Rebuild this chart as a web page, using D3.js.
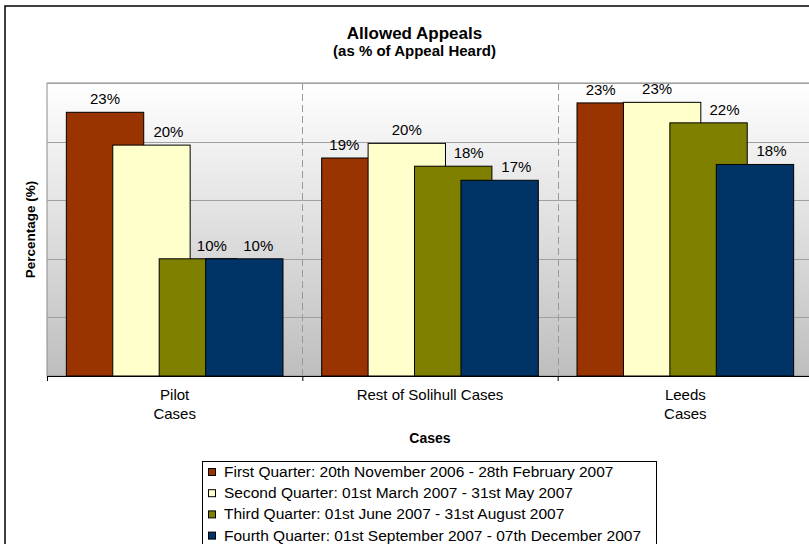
<!DOCTYPE html>
<html>
<head>
<meta charset="utf-8">
<script src="https://cdn.jsdelivr.net/npm/d3@7"></script>
<style>
  body { margin: 0; background: #fff; }
  svg { display: block; font-family: Arial, "Liberation Sans", sans-serif; }
  .lbl { font-size: 15px; fill: #000; }
</style>
</head>
<body>
<svg width="809" height="544"></svg>
<script>
// data (percent)
var categories = [["Pilot", "Cases"], ["Rest of Solihull Cases"], ["Leeds", "Cases"]];
var seriesNames = [
  "First Quarter: 20th November 2006 - 28th February 2007",
  "Second Quarter: 01st March 2007 - 31st May 2007",
  "Third Quarter: 01st June 2007 - 31st August 2007",
  "Fourth Quarter: 01st September 2007 - 07th December 2007"
];
var firstQuarter  = [22.5, 18.6, 23.3];
var secondQuarter = [19.7, 19.85, 23.35];
var thirdQuarter  = [10.0, 17.9, 21.6];
var fourthQuarter = [10.0, 16.7, 18.05];
var yTicks = [0, 5, 10, 15, 20, 25];

var colors = ["#993300", "#FFFFCC", "#808000", "#003366"];
// labels were dragged sideways in the original, so nudge them (px)
var labelNudge = [[0, -16, -15], [17, 0, -5], [14, 15.5, 16], [14, 16.7, 16.5]];

var series = [firstQuarter, secondQuarter, thirdQuarter, fourthQuarter];

var svg = d3.select("svg");

var plot = { left: 47, top: 83, right: 813, bottom: 376 };

var x = d3.scaleBand()
    .domain(d3.range(categories.length))
    .range([plot.left, plot.right]);

var y = d3.scaleLinear()
    .domain([0, 25])
    .range([plot.bottom, plot.top]);

var band = x.bandwidth(),
    barW = band / 3.3,       // gap width 50%, overlap 40%
    step = barW * 0.6,
    offset = barW * 0.25;

// outer chart border
svg.append("rect")
    .attr("x", 5).attr("y", 6)
    .attr("width", 830).attr("height", 560)
    .attr("fill", "#fff")
    .attr("stroke", "#000")
    .attr("stroke-width", 1.5);

// plot background gradient
var grad = svg.append("defs").append("linearGradient")
    .attr("id", "bg")
    .attr("x1", 0).attr("y1", 0).attr("x2", 0).attr("y2", 1);
grad.append("stop").attr("offset", "0%").attr("stop-color", "#ffffff");
grad.append("stop").attr("offset", "100%").attr("stop-color", "#bebebe");

svg.append("rect")
    .attr("x", plot.left).attr("y", plot.top)
    .attr("width", plot.right - plot.left)
    .attr("height", plot.bottom - plot.top)
    .attr("fill", "url(#bg)")
    .attr("stroke", "#8c8c8c");

// gridlines
svg.append("g")
    .selectAll("line")
    .data(yTicks.slice(1))
    .enter().append("line")
    .attr("x1", plot.left).attr("x2", plot.right)
    .attr("y1", function(d) { return Math.round(y(d)) + 0.5; })
    .attr("y2", function(d) { return Math.round(y(d)) + 0.5; })
    .attr("stroke", "#a0a0a0");

// dashed category dividers
svg.append("g")
    .selectAll("line")
    .data(d3.range(1, categories.length))
    .enter().append("line")
    .attr("x1", function(d) { return Math.round(x(d)) + 0.5; })
    .attr("x2", function(d) { return Math.round(x(d)) + 0.5; })
    .attr("y1", plot.top).attr("y2", plot.bottom)
    .attr("stroke", "#999")
    .attr("stroke-dasharray", "7,4");

// bars, later series drawn on top
series.forEach(function(vals, s) {
  svg.append("g")
    .selectAll("rect")
    .data(vals)
    .enter().append("rect")
    .attr("x", function(d, i) { return x(i) + offset + s * step; })
    .attr("y", function(d) { return y(d); })
    .attr("width", barW)
    .attr("height", function(d) { return y(0) - y(d); })
    .attr("fill", colors[s])
    .attr("stroke", "#000")
    .attr("stroke-width", 1);
});

// value labels
series.forEach(function(vals, s) {
  svg.append("g")
    .selectAll("text")
    .data(vals)
    .enter().append("text")
    .attr("class", "lbl")
    .attr("text-anchor", "middle")
    .attr("x", function(d, i) { return x(i) + offset + s * step + barW / 2 + labelNudge[s][i]; })
    .attr("y", function(d) { return y(d) - 8; })
    .text(function(d) { return Math.round(d) + "%"; });
});

// x axis
var xAxis = d3.axisBottom(d3.scaleLinear().domain([0, categories.length]).range([plot.left, plot.right]))
    .tickValues(d3.range(0, categories.length + 1))
    .tickSize(5)
    .tickSizeOuter(0)
    .tickFormat("");

var gx = svg.append("g")
    .attr("transform", "translate(0," + plot.bottom + ")")
    .call(xAxis);
gx.select(".domain").attr("stroke", "#000");
gx.selectAll(".tick line").attr("stroke", "#000");

// category labels
categories.forEach(function(lines, i) {
  var t = svg.append("text")
      .attr("class", "lbl")
      .attr("text-anchor", "middle")
      .attr("x", x(i) + band / 2)
      .attr("y", 400);
  lines.forEach(function(l, k) {
    t.append("tspan")
      .attr("x", x(i) + band / 2)
      .attr("dy", k === 0 ? 0 : 19)
      .text(l);
  });
});

// axis titles
svg.append("text")
    .attr("x", (plot.left + plot.right) / 2)
    .attr("y", 443)
    .attr("text-anchor", "middle")
    .attr("font-weight", "bold")
    .attr("font-size", "14px")
    .text("Cases");

svg.append("text")
    .attr("transform", "translate(35," + (plot.top + plot.bottom) / 2 + ") rotate(-90)")
    .attr("text-anchor", "middle")
    .attr("font-weight", "bold")
    .attr("font-size", "13.5px")
    .text("Percentage (%)");

// chart title
svg.append("text")
    .attr("x", 414.5).attr("y", 39)
    .attr("text-anchor", "middle")
    .attr("font-weight", "bold")
    .attr("font-size", "17px")
    .text("Allowed Appeals");
svg.append("text")
    .attr("x", 414.5).attr("y", 56)
    .attr("text-anchor", "middle")
    .attr("font-weight", "bold")
    .attr("font-size", "15px")
    .text("(as % of Appeal Heard)");

// legend
var legend = svg.append("g").attr("transform", "translate(202,461)");
legend.append("rect")
    .attr("x", 0.5).attr("y", 0.5)
    .attr("width", 454).attr("height", 100)
    .attr("fill", "#fff")
    .attr("stroke", "#000");

var item = legend.selectAll(".item")
    .data(seriesNames)
    .enter().append("g")
    .attr("class", "item")
    .attr("transform", function(d, i) { return "translate(0," + (11 + i * 21.2) + ")"; });

item.append("rect")
    .attr("x", 6.5).attr("y", -3.5)
    .attr("width", 7).attr("height", 7)
    .attr("fill", function(d, i) { return colors[i]; })
    .attr("stroke", "#000");

item.append("text")
    .attr("x", 22)
    .attr("y", 5)
    .attr("font-size", "15.5px")
    .text(function(d) { return d; });
</script>
</body>
</html>
